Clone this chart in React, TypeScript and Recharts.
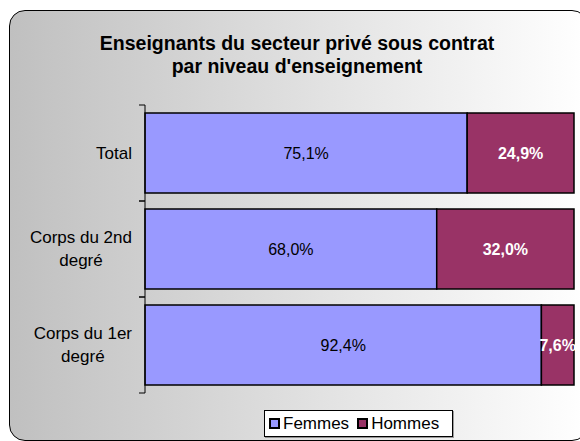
import React from 'react';
import { BarChart, Bar, XAxis, YAxis, LabelList } from 'recharts';

const categories = ['Total', 'Corps du 2nd degré', 'Corps du 1er degré'];
const femmes = [75.1, 68.0, 92.4];
const hommes = [24.9, 32.0, 7.6];
const seriesNames = ['Femmes', 'Hommes'];
const seriesColors = ['#9999FF', '#993366'];
const titleLines = ['Enseignants du secteur privé sous contrat', "par niveau d'enseignement"];
const labelLines: Record<string, string[]> = {
  'Total': ['Total'],
  'Corps du 2nd degré': ['Corps du 2nd', 'degré'],
  'Corps du 1er degré': ['Corps du 1er', 'degré'],
};

const data = categories.map((c, i) => ({ name: c, Femmes: femmes[i], Hommes: hommes[i] }));

const W = 580;
const H = 441;
const FONT = "'Liberation Sans', Arial, sans-serif";
const M = { top: 105, right: 6, bottom: 48, left: 8 };
const YW = 137;
const PLOT_LEFT = M.left + YW;
const BAND = (H - M.top - M.bottom) / categories.length;

let ctx: CanvasRenderingContext2D | null = null;
function measure(t: string, font: string) {
  if (!ctx) ctx = document.createElement('canvas').getContext('2d');
  if (!ctx) return t.length * 8;
  ctx.font = font;
  return ctx.measureText(t).width;
}

const fmt = (v: number) => v.toFixed(1).replace('.', ',') + '%';

const CatTick = (props: any) => {
  const { y, payload } = props;
  const lines = labelLines[payload.value] || [payload.value];
  const fs = 17;
  const maxW = Math.max(...lines.map((l) => measure(l, `${fs}px ${FONT}`)));
  const right = PLOT_LEFT - 13;
  const cx = right - maxW / 2;
  const lh = 23;
  const y0 = y - ((lines.length - 1) * lh) / 2;
  return (
    <g>
      <line x1={PLOT_LEFT - 6} x2={PLOT_LEFT} y1={y - BAND / 2} y2={y - BAND / 2} stroke="#000" strokeWidth={1} />
      <line x1={PLOT_LEFT - 6} x2={PLOT_LEFT} y1={y + BAND / 2} y2={y + BAND / 2} stroke="#000" strokeWidth={1} />
      {lines.map((l, i) => (
        <text key={i} x={cx} y={y0 + i * lh} textAnchor="middle" dominantBaseline="central" fontSize={fs} fontFamily={FONT} fill="#000">
          {l}
        </text>
      ))}
    </g>
  );
};

const LegendBox = () => (
  <div
    style={{
      position: 'absolute',
      left: 264,
      top: 410,
      width: 187,
      height: 25,
      border: '1px solid #000',
      background: '#fff',
      boxShadow: '1px 1px 0 rgba(0,0,0,0.35)',
      display: 'flex',
      alignItems: 'center',
      fontFamily: FONT,
      fontSize: 17,
      color: '#000',
      boxSizing: 'content-box',
    }}
  >
    {seriesNames.map((n, i) => (
      <div key={n} style={{ display: 'flex', alignItems: 'center', marginLeft: i === 0 ? 4 : 8 }}>
        <div style={{ width: 7, height: 7, border: '2px solid #000', background: seriesColors[i], marginRight: 3 }} />
        <span>{n}</span>
      </div>
    ))}
  </div>
);

export default function App() {
  return (
    <div style={{ position: 'absolute', left: 0, top: 0, width: W, height: H, overflow: 'hidden', background: '#fff' }}>
      <div
        style={{
          position: 'absolute',
          left: 9,
          top: 10,
          width: 579,
          height: 431,
          border: '1.5px solid #000',
          borderRadius: 16,
          background: 'linear-gradient(to right, #c0c0c0 0%, #ffffff 100%)',
          boxSizing: 'border-box',
        }}
      />
      <div
        style={{
          position: 'absolute',
          left: 0,
          top: 31.5,
          width: 594,
          textAlign: 'center',
          fontFamily: FONT,
          fontWeight: 'bold',
          fontSize: 19.5,
          lineHeight: '23px',
          color: '#000',
        }}
      >
        {titleLines.map((t) => (
          <div key={t}>{t}</div>
        ))}
      </div>
      <div style={{ position: 'absolute', left: 0, top: 0 }}>
        <BarChart width={W} height={H} data={data} layout="vertical" margin={M} barCategoryGap="8.33%">
          <XAxis type="number" domain={[0, 100]} hide />
          <YAxis
            type="category"
            dataKey="name"
            width={YW}
            axisLine={{ stroke: '#000', strokeWidth: 1 }}
            tickLine={false}
            tick={<CatTick />}
            interval={0}
          />
          <Bar dataKey="Femmes" stackId="a" fill={seriesColors[0]} stroke="#000" strokeWidth={1.5} isAnimationActive={false}>
            <LabelList dataKey="Femmes" position="center" formatter={(v: any) => fmt(Number(v))} fill="#000" fontSize={16} fontFamily={FONT} />
          </Bar>
          <Bar dataKey="Hommes" stackId="a" fill={seriesColors[1]} stroke="#000" strokeWidth={1.5} isAnimationActive={false}>
            <LabelList dataKey="Hommes" position="center" formatter={(v: any) => fmt(Number(v))} fill="#fff" fontWeight="bold" fontSize={16} fontFamily={FONT} />
          </Bar>
        </BarChart>
      </div>
      <LegendBox />
    </div>
  );
}
